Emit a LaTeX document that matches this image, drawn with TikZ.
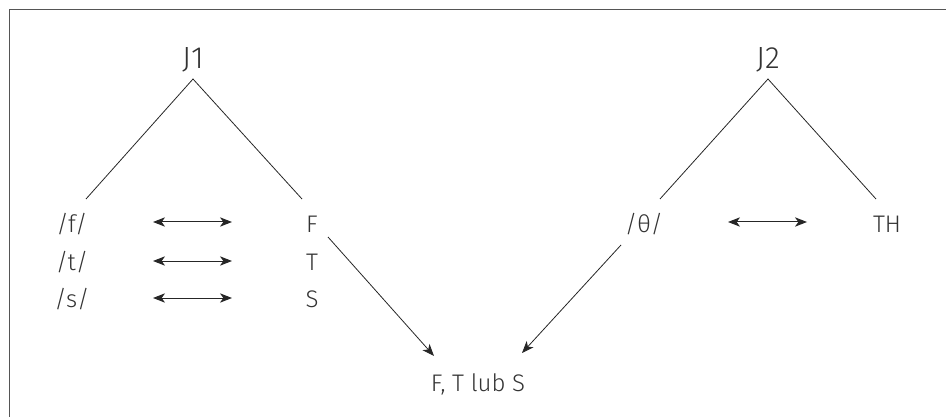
\documentclass[tikz,border=0pt]{standalone}
\usepackage{fontspec}
\setmainfont{Fira Sans}[UprightFont=* Light]
\usetikzlibrary{arrows.meta}
\definecolor{txt}{HTML}{333333}
\definecolor{frame}{HTML}{555555}
\tikzset{
  lbl/.style={inner sep=0pt, anchor=base, text=txt, font=\fontsize{18}{20}\selectfont},
  head/.style={inner sep=0pt, anchor=base, text=txt, font=\fontsize{23}{26}\selectfont},
  branch/.style={line width=0.6pt, draw=black!85},
  dbl/.style={line width=0.75pt, draw=black!85, {Stealth[length=9pt,width=7pt,inset=2.5pt]}-{Stealth[length=9pt,width=7pt,inset=2.5pt]}},
  sgl/.style={line width=0.6pt, draw=black!85, -{Stealth[length=9pt,width=7pt,inset=2.5pt]}},
}
\begin{document}
\begin{tikzpicture}[x=0.75pt,y=-0.75pt]
\useasboundingbox (0,0) rectangle (946,417);
\draw[frame, line width=0.9pt] (9.5,417) -- (9.5,9.5) -- (946,9.5);
% heads
\node[head] (j1) at (193,69) {J1};
\node[head] (j2) at (768,69) {J2};
\coordinate (a1) at (193,79);
\coordinate (a2) at (768,79);
% left labels
\node[lbl] (f) at (72,233) {/f/};
\node[lbl] (t) at (72,270) {/t/};
\node[lbl] (s) at (72,307) {/s/};
\node[lbl] (F) at (312,233) {F};
\node[lbl] (T) at (312,270) {T};
\node[lbl] (S) at (312,307) {S};
\node[lbl] (th) at (644,233) {/θ/};
\node[lbl] (TH) at (887,233) {TH};
\node[lbl] (res) at (478,391) {F, T lub S};
% branch ends
\coordinate (l1) at (86,199);
\coordinate (r1) at (302,199);
\coordinate (l2) at (660,199);
\coordinate (r2) at (876,199);
\draw[branch] (l1) -- (a1) -- (r1);
\draw[branch] (l2) -- (a2) -- (r2);
% double arrows
\coordinate (fa) at (153,222); \coordinate (fb) at (232,222);
\coordinate (ta) at (153,261); \coordinate (tb) at (232,261);
\coordinate (sa) at (153,298); \coordinate (sb) at (232,298);
\coordinate (tha) at (728,222); \coordinate (thb) at (807,222);
\draw[dbl] (fa) -- (fb);
\draw[dbl] (ta) -- (tb);
\draw[dbl] (sa) -- (sb);
\draw[dbl] (tha) -- (thb);
% convergence arrows
\coordinate (fs) at (328,237); \coordinate (ft) at (434,356);
\coordinate (ths) at (621,245); \coordinate (tht) at (522,353);
\draw[sgl] (fs) -- (ft);
\draw[sgl] (ths) -- (tht);
\end{tikzpicture}
\end{document}
